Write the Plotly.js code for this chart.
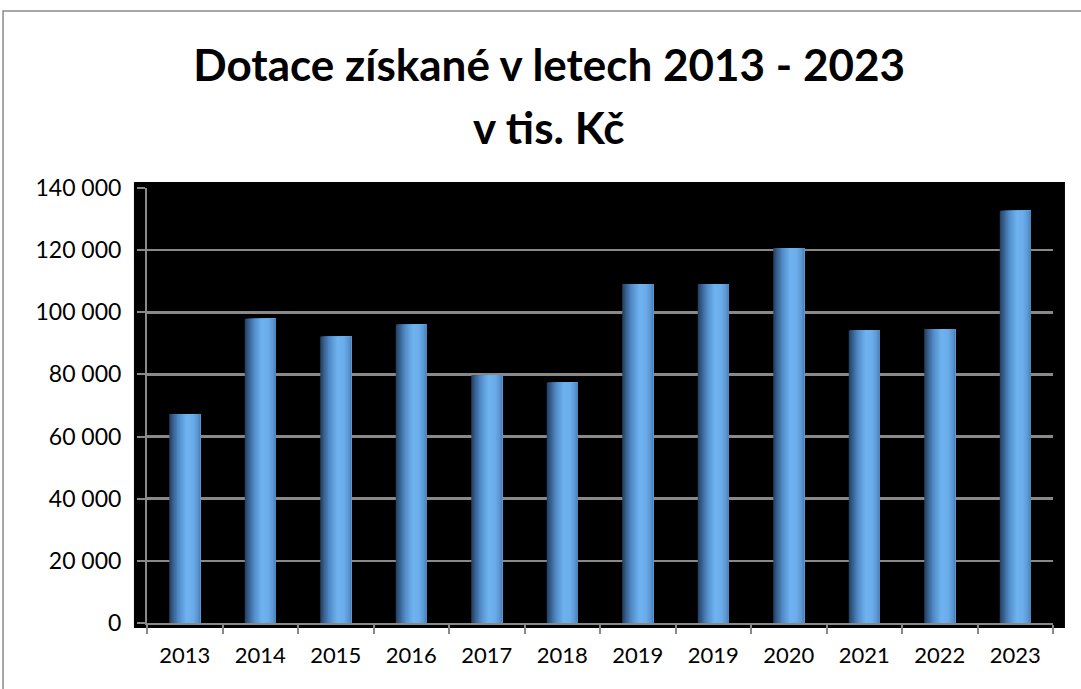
<!DOCTYPE html>
<html>
<head>
<meta charset="utf-8">
<script src="https://cdn.plot.ly/plotly-3.0.1.min.js"></script>
<style>
  html, body { margin: 0; padding: 0; background: #ffffff; }
  #chart { width: 1081px; height: 689px; }
</style>
</head>
<body>
<div id="chart"></div>
<script>
// ---- data ----
const titleLine1 = 'Dotace získané v letech 2013 - 2023';
const titleLine2 = 'v tis. Kč';
const years = ['2013', '2014', '2015', '2016', '2017', '2018', '2019', '2019', '2020', '2021', '2022', '2023'];
const values = [67300, 97900, 92200, 96100, 79700, 77400, 109100, 109100, 120700, 94200, 94600, 132700];
const yTicks = [0, 20000, 40000, 60000, 80000, 100000, 120000, 140000];

// ---- styling ----
const FONT = 'Lato, "Open Sans", sans-serif';
const GREY = '#898989';
const positions = years.map((_, i) => i);

// cylinder-like horizontal gradient, simulated with overlapping layers
const gradStops = [
  [0.00, [36, 62, 96]],
  [0.12, [54, 94, 140]],
  [0.30, [82, 140, 200]],
  [0.55, [110, 178, 240]],
  [0.75, [108, 174, 236]],
  [0.92, [90, 150, 210]],
  [1.00, [72, 124, 178]]
];
function gradColor(t) {
  for (let k = 1; k < gradStops.length; k++) {
    if (t <= gradStops[k][0]) {
      const a = gradStops[k - 1], b = gradStops[k];
      const f = (t - a[0]) / (b[0] - a[0]);
      const c = a[1].map((v, j) => Math.round(v + (b[1][j] - v) * f));
      return 'rgb(' + c.join(',') + ')';
    }
  }
  const l = gradStops[gradStops.length - 1][1];
  return 'rgb(' + l.join(',') + ')';
}

const barWidth = 0.41;
const N = 24;
const stripe = barWidth / N;
const traces = [];
for (let s = 0; s < N; s++) {
  // each layer starts further right and runs to the bar's right edge,
  // so later layers cover earlier ones without seams
  traces.push({
    type: 'bar',
    x: positions,
    y: values,
    width: barWidth - s * stripe,
    offset: -barWidth / 2 + s * stripe,
    marker: { color: gradColor((s + 0.5) / N), line: { width: 0 } },
    hoverinfo: s === 0 ? 'y' : 'skip',
    showlegend: false
  });
}

const layout = {
  width: 1081,
  height: 689,
  margin: { l: 147, r: 28, t: 188, b: 66, pad: 0 },
  paper_bgcolor: '#ffffff',
  plot_bgcolor: '#000000',
  barmode: 'overlay',
  separators: ', ',
  font: { family: FONT, color: '#000000', size: 22 },
  title: {
    text: '<b>' + titleLine1 + '</b>',
    font: { family: FONT, size: 44, color: '#000000' },
    xref: 'container', yref: 'container',
    x: 0.508, xanchor: 'center',
    y: 0.905, yanchor: 'middle'
  },
  annotations: [{
    text: '<b>' + titleLine2 + '</b>',
    font: { family: FONT, size: 44, color: '#000000' },
    xref: 'paper', yref: 'paper',
    x: 0.4437, xanchor: 'center',
    y: 1.14, yanchor: 'middle',
    showarrow: false
  }],
  xaxis: {
    type: 'linear',
    range: [-0.5, years.length - 0.5],
    tickmode: 'array',
    tickvals: positions,
    ticktext: years,
    ticks: '',
    showgrid: false,
    zeroline: false,
    showline: true,
    linecolor: GREY,
    linewidth: 2,
    tickfont: { family: FONT, size: 22, color: '#000000' },
    ticklabelstandoff: 12,
    minor: {
      tickmode: 'array',
      tickvals: years.map((_, i) => i - 0.5).concat([years.length - 0.5]),
      ticks: 'outside',
      ticklen: 9,
      tickwidth: 2,
      tickcolor: GREY,
      showgrid: false
    },
    fixedrange: true
  },
  yaxis: {
    range: [0, 140000],
    tickmode: 'array',
    tickvals: yTicks,
    tickformat: ',d',
    ticks: 'outside',
    ticklen: 8,
    tickwidth: 2,
    tickcolor: GREY,
    showgrid: true,
    gridcolor: GREY,
    gridwidth: 2.5,
    zeroline: false,
    showline: true,
    linecolor: GREY,
    linewidth: 2,
    tickfont: { family: FONT, size: 23, color: '#000000' },
    ticklabelstandoff: 11,
    fixedrange: true
  },
  shapes: [
    // black chart-area background extending a bit past the axes
    {
      type: 'rect', xref: 'paper', yref: 'paper', layer: 'below',
      x0: -0.0144, x1: 1.0132, y0: -0.0115, y1: 1.0138,
      fillcolor: '#000000', line: { width: 0 }
    },
    // outer chart border
    {
      type: 'rect', xref: 'paper', yref: 'paper', layer: 'below',
      x0: -0.1589, x1: 1.1, y0: -0.25, y1: 1.4069,
      fillcolor: 'rgba(0,0,0,0)', line: { color: '#8a8a8a', width: 1.5 }
    }
  ]
};

Plotly.newPlot('chart', traces, layout, { displayModeBar: false, staticPlot: true });
</script>
</body>
</html>
